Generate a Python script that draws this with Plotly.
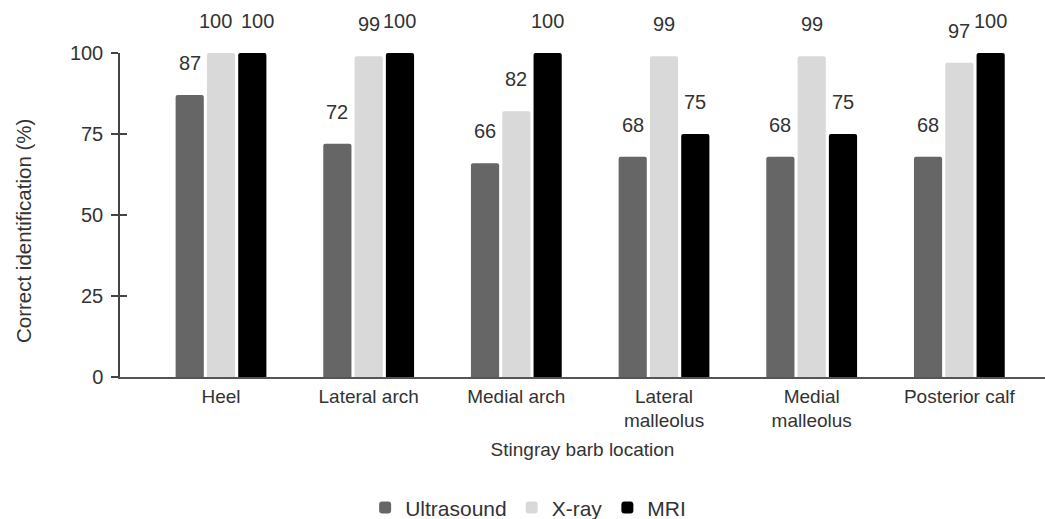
import plotly.graph_objects as go

categories = ["Heel", "Lateral arch", "Medial arch", "Lateral<br>malleolus", "Medial<br>malleolus", "Posterior calf"]
ultrasound = [87, 72, 66, 68, 68, 68]
xray = [100, 99, 82, 99, 99, 97]
mri = [100, 100, 100, 75, 75, 100]
series_names = ["Ultrasound", "X-ray", "MRI"]
series_colors = ["#666666", "#d9d9d9", "#000000"]
y_ticks = [0, 25, 50, 75, 100]

FONT = "Liberation Sans, Arial, sans-serif"
TXT = "#333333"
bargap = 0.364
idx = list(range(len(categories)))

fig = go.Figure()
for name, vals, col in zip(series_names, [ultrasound, xray, mri], series_colors):
    fig.add_trace(go.Bar(x=idx, y=vals, name=name, marker_color=col,
                         marker_line_width=0, marker_cornerradius=2))

step = (1 - bargap) / 3
all_vals = [ultrasound, xray, mri]
for j, vals in enumerate(all_vals):
    for i, v in enumerate(vals):
        xs = 0
        # nudge adjacent equal-height 3-digit labels apart to avoid overlap
        if j == 1 and v >= 100 and mri[i] >= 100:
            xs = -6
        if j == 2 and v >= 100 and xray[i] >= 100:
            xs = 5
        fig.add_annotation(x=i + (j - 1) * step, y=v, xref="x", yref="y",
                           text=str(v), showarrow=False, yshift=32, xshift=xs,
                           yanchor="middle",
                           font=dict(size=20, color=TXT, family=FONT))

# y-axis title as annotation (placed slightly below centre, as in the original)
fig.add_annotation(text="Correct identification (%)", xref="paper", yref="paper",
                   x=-0.105, y=0.45, textangle=-90, showarrow=False,
                   xanchor="center", yanchor="middle",
                   font=dict(size=20.5, color=TXT, family=FONT))

# dummy trace for inside-crossing ticks
fig.add_trace(go.Scatter(x=[0], y=[0], yaxis="y2", mode="markers",
                         marker=dict(opacity=0), showlegend=False, hoverinfo="skip"))

fig.update_layout(
    width=1045, height=519,
    margin=dict(l=120, r=0, t=53, b=142, autoexpand=False),
    plot_bgcolor="white", paper_bgcolor="white",
    barmode="group", bargap=bargap, bargroupgap=0.1,
    font=dict(family=FONT, size=20, color=TXT),
    xaxis=dict(range=[-0.684, 5.58], tickvals=idx, ticktext=categories,
               showline=True, linecolor="#555555", linewidth=1.5,
               ticks="", showgrid=False, zeroline=False, ticklabelstandoff=1,
               tickfont=dict(size=19, color=TXT),
               title=dict(text="Stingray barb location", font=dict(size=19, color=TXT), standoff=12)),
    yaxis=dict(range=[0, 100], tickvals=y_ticks, showline=True, linecolor="#444444",
               linewidth=1.5, ticks="outside", ticklen=7, tickwidth=1.5, tickcolor="#444444",
               ticklabelstandoff=4,
               showgrid=False, zeroline=False, tickfont=dict(size=20, color=TXT)),
    yaxis2=dict(range=[0, 100], overlaying="y", side="left", tickvals=y_ticks,
                ticks="inside", ticklen=7, tickwidth=1.5, tickcolor="#444444",
                showticklabels=False, showgrid=False, zeroline=False, showline=False),
    legend=dict(orientation="h", x=0.265, xanchor="left", y=-0.404, yanchor="middle",
                font=dict(size=21, color=TXT), itemclick=False),
    showlegend=True,
)

fig.write_html("out.html", config={"displayModeBar": False},
               post_script="document.body.style.margin='0';document.body.style.padding='0';")
